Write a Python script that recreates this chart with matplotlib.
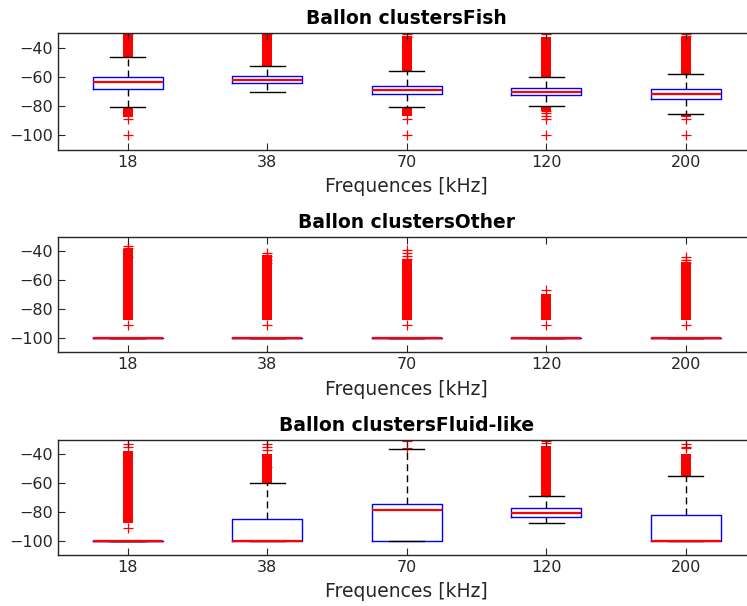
import numpy as np
import matplotlib.pyplot as plt

# Frequencies on the x axis
freqs = ['18', '38', '70', '120', '200']

# Panel 1 : Fish
fish_q1 = [-68.2, -64.0, -72.0, -72.7, -75.2]
fish_med = [-63.6, -62.2, -68.8, -70.2, -71.8]
fish_q3 = [-59.8, -59.5, -65.9, -67.7, -68.2]
fish_wlo = [-80.9, -70.4, -80.9, -80.2, -85.2]
fish_whi = [-46.6, -52.3, -55.9, -60.2, -57.7]
fish_bands = [[(-46.6, -30.5), (-87.4, -80.9)],
              [(-52.3, -30.5)],
              [(-55.9, -32.0), (-87.0, -80.9)],
              [(-60.2, -32.5), (-83.0, -80.2)],
              [(-57.7, -32.5), (-87.7, -85.2)]]
fish_pts = [[-31, -89, -100],
            [-31],
            [-31, -33, -89, -100],
            [-31, -83, -85, -87, -89, -100],
            [-30.5, -32, -89, -100]]

# Panel 2 : Other
other_q1 = [-100, -100, -100, -100, -100]
other_med = [-100, -100, -100, -100, -100]
other_q3 = [-100, -100, -100, -100, -100]
other_wlo = [-100, -100, -100, -100, -100]
other_whi = [-100, -100, -100, -100, -100]
other_bands = [[(-87.8, -38.3)],
               [(-87.8, -42.5)],
               [(-87.8, -45.0)],
               [(-87.8, -69.4)],
               [(-87.8, -47.6)]]
other_pts = [[-36, -38, -44, -91],
             [-41, -43, -46, -48, -91],
             [-39, -41, -43, -45, -91],
             [-66.6, -91],
             [-44, -46, -48, -91]]

# Panel 3 : Fluid-like
fluid_q1 = [-100, -100, -100, -83.8, -100]
fluid_med = [-100, -100, -78.8, -80.6, -100]
fluid_q3 = [-100, -84.7, -74.6, -77.4, -82.0]
fluid_wlo = [-100, -100, -100, -88.0, -100]
fluid_whi = [-100, -59.9, -36.5, -68.9, -55.2]
fluid_bands = [[(-88.0, -37.7)],
               [(-59.9, -40.0)],
               [],
               [(-68.9, -34.3)],
               [(-55.2, -39.5)]]
fluid_pts = [[-33, -35, -91],
             [-33, -35, -37, -49],
             [-31, -35.5],
             [-31, -32],
             [-33, -35, -36]]

titles = ['Ballon clustersFish', 'Ballon clustersOther', 'Ballon clustersFluid-like']

panels = [
    (fish_q1, fish_med, fish_q3, fish_wlo, fish_whi, fish_bands, fish_pts),
    (other_q1, other_med, other_q3, other_wlo, other_whi, other_bands, other_pts),
    (fluid_q1, fluid_med, fluid_q3, fluid_wlo, fluid_whi, fluid_bands, fluid_pts),
]

fig = plt.figure(figsize=(7.47, 6.06), dpi=100)

# axes boxes (left, bottom, width, height) in figure fraction, right edge is cut
ax_pos = [[0.0776, 0.7525, 0.934, 0.193],
          [0.0776, 0.419, 0.934, 0.190],
          [0.0776, 0.0842, 0.934, 0.190]]

grey = '#262626'
for k, (q1, med, q3, wlo, whi, bands, pts) in enumerate(panels):
    ax = fig.add_axes(ax_pos[k])
    pos = np.arange(1, len(freqs) + 1)

    # outliers first, so the boxes sit on top
    for i, p in enumerate(pos):
        for lo, hi in bands[i]:
            ax.vlines(p, lo, hi, colors='#ff0000', linewidth=7.2, zorder=1)
        ax.plot([p] * len(pts[i]), pts[i], linestyle='none', marker='+',
                color='#ff0000', markersize=7, markeredgewidth=0.9, zorder=1)

    stats = []
    for i in range(len(freqs)):
        stats.append({'q1': q1[i], 'med': med[i], 'q3': q3[i],
                      'whislo': wlo[i], 'whishi': whi[i], 'fliers': []})
    ax.bxp(stats, positions=pos, widths=0.5, showfliers=False,
           boxprops=dict(color='#0000ff', linewidth=1.0),
           medianprops=dict(color='#ff0000', linewidth=1.6),
           whiskerprops=dict(color='black', linewidth=1.0, linestyle=(0, (5, 3))),
           capprops=dict(color='black', linewidth=1.0), capwidths=0.25)

    ax.set_xlim(0.5, 5.5)
    ax.set_ylim(-110, -30)
    ax.set_yticks([-40, -60, -80, -100])
    ax.set_xticks(pos)
    ax.set_xticklabels(freqs)
    ax.tick_params(direction='in', top=True, right=True, length=5,
                   labelsize=11.5, labelcolor=grey, color=grey, width=0.8)
    for s in ax.spines.values():
        s.set_color(grey)
        s.set_linewidth(1.0)
    ax.set_title(titles[k], fontsize=13.5, fontweight='bold', pad=6.5)
    ax.set_xlabel('Frequences [kHz]', fontsize=13.5, color=grey, labelpad=5.5)

fig.savefig('out.png', dpi=100)
